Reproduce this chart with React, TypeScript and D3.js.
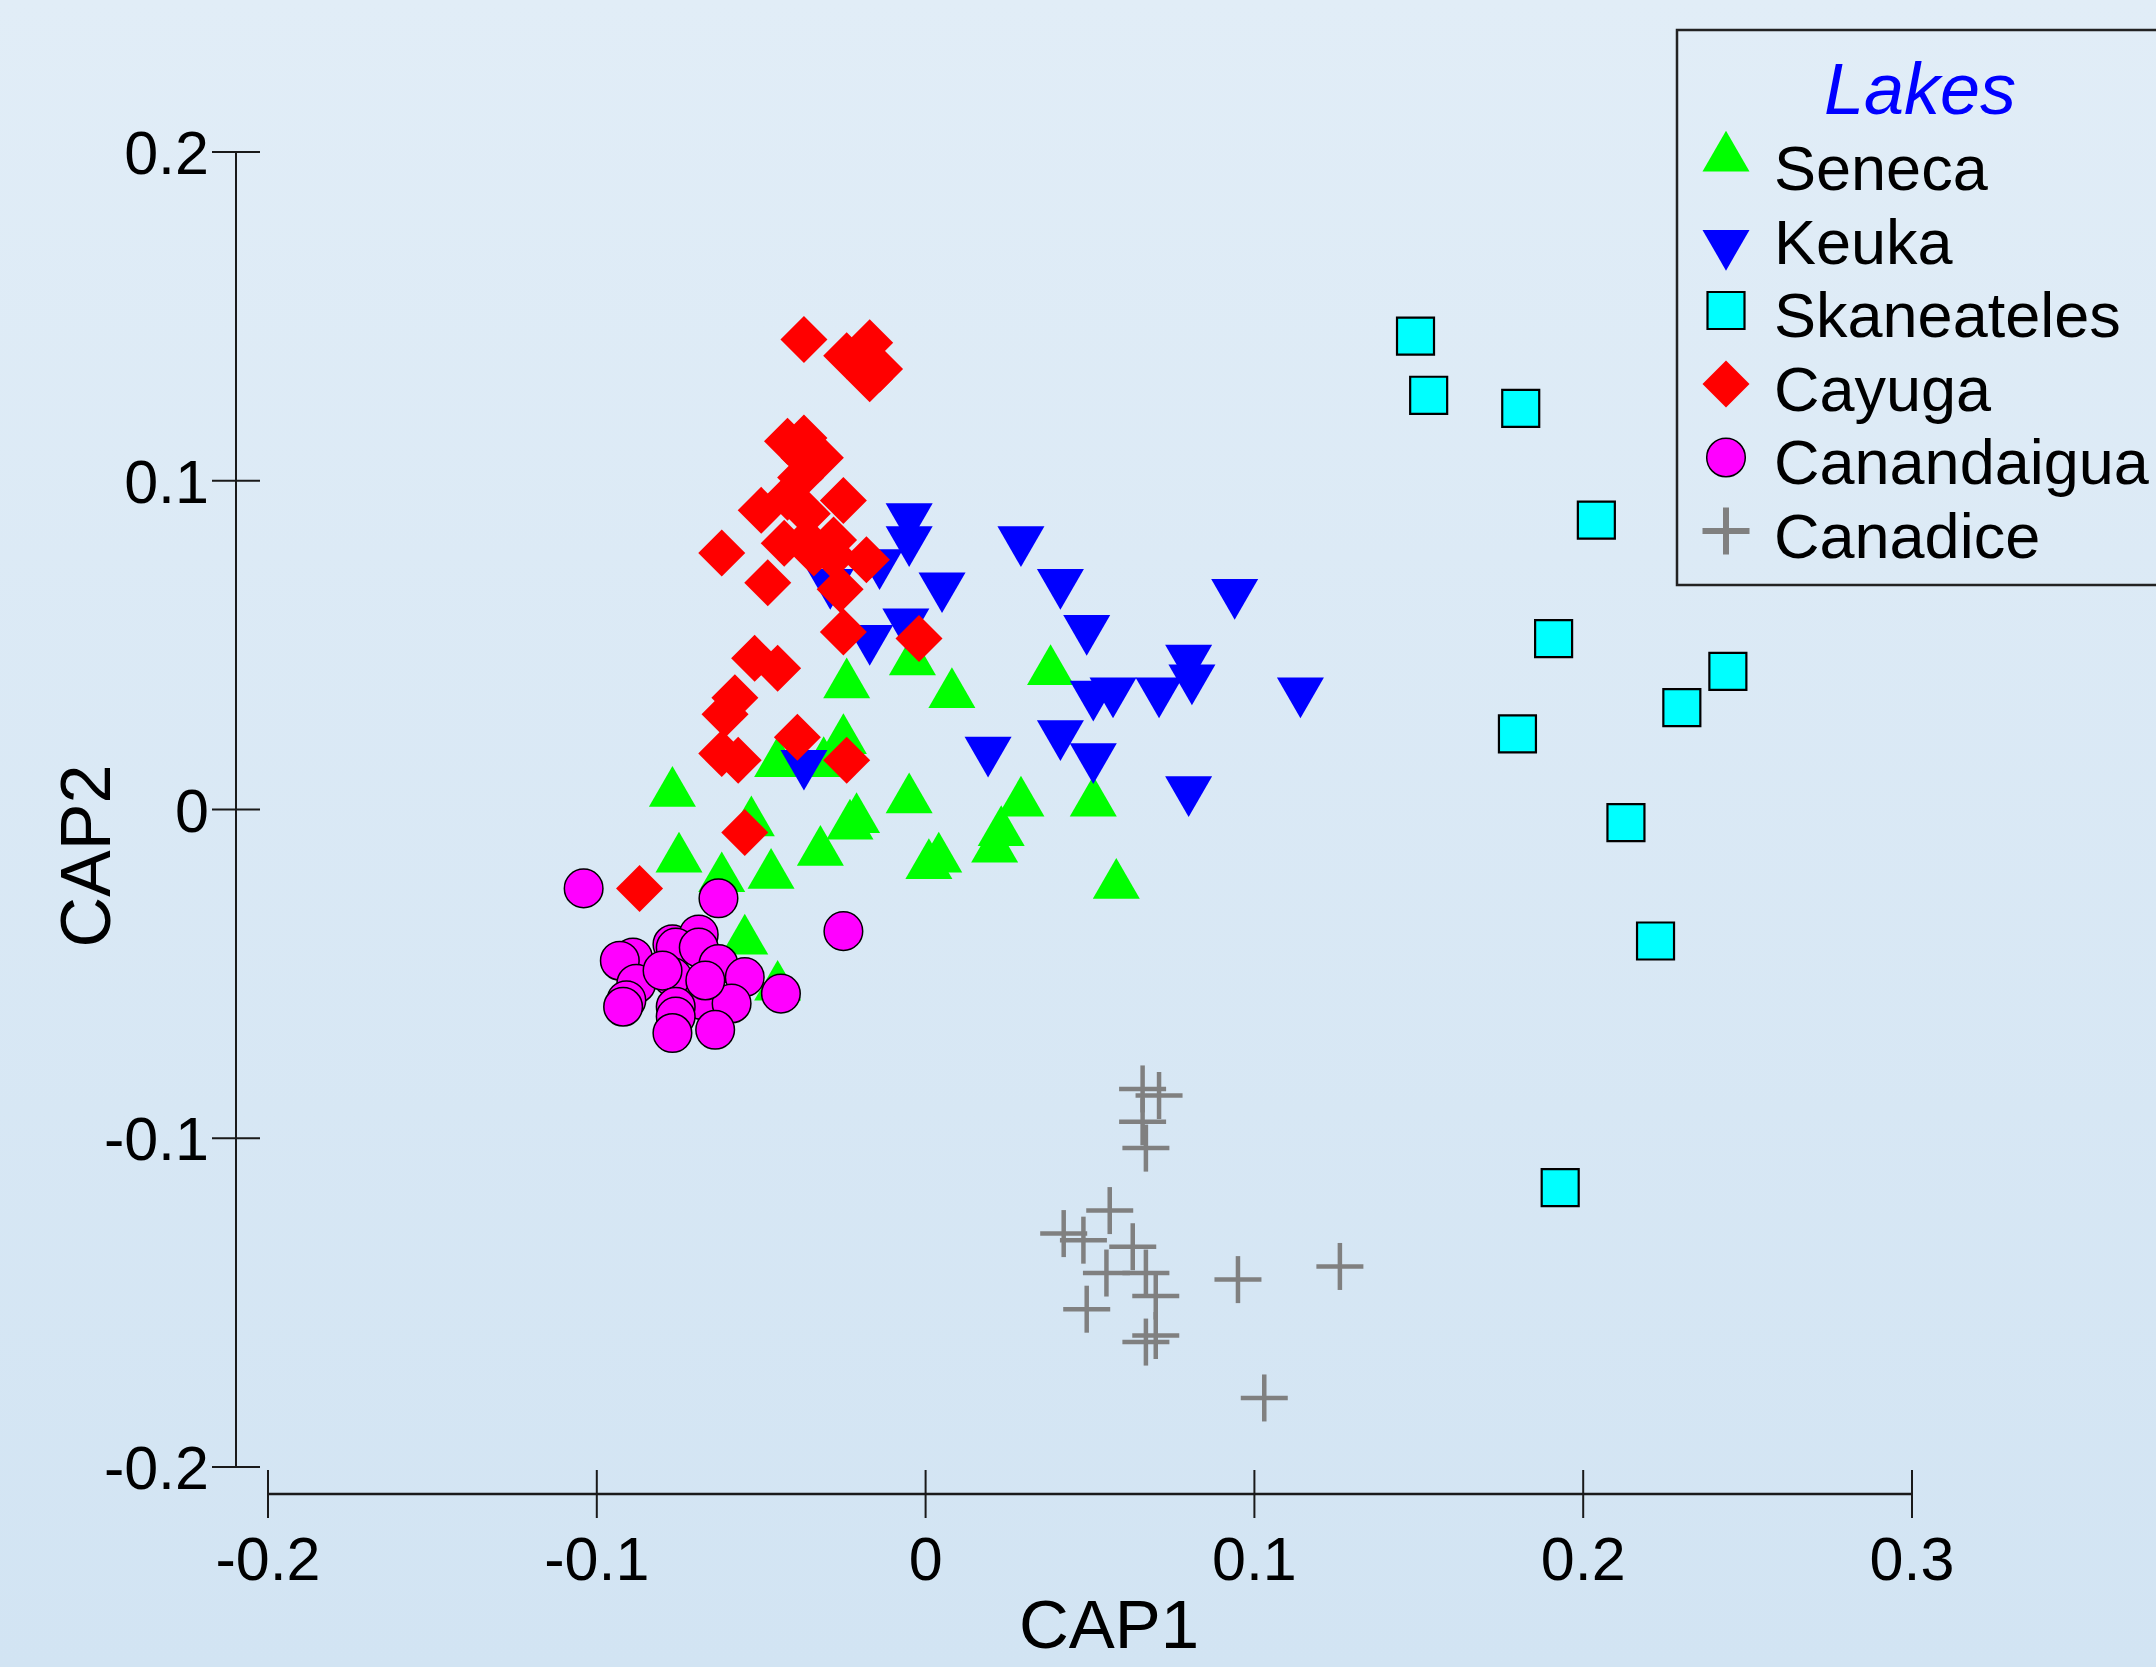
import React from 'react';
import * as d3 from 'd3';

type Pt = [number, number];

// CAP scores, [CAP1, CAP2]
const seneca: Pt[] = [
  [-0.024, 0.038], [-0.004, 0.045], [0.008, 0.035], [0.038, 0.042], [-0.025, 0.021],
  [-0.045, 0.014], [-0.031, 0.014], [-0.077, 0.005], [-0.053, -0.004], [-0.021, -0.003],
  [-0.023, -0.005], [-0.005, 0.003], [0.029, 0.002], [0.051, 0.002], [0.023, -0.007],
  [0.021, -0.012], [0.004, -0.015], [0.001, -0.017], [-0.032, -0.013], [-0.075, -0.015],
  [-0.047, -0.020], [-0.062, -0.021], [0.058, -0.023], [-0.055, -0.040], [-0.045, -0.054],
];

const keuka: Pt[] = [
  [-0.005, 0.089], [-0.005, 0.082], [-0.014, 0.075], [-0.029, 0.069], [0.005, 0.068],
  [0.029, 0.082], [0.041, 0.069], [0.094, 0.066], [0.049, 0.055], [-0.006, 0.057],
  [-0.017, 0.052], [0.080, 0.046], [0.081, 0.040], [0.051, 0.035], [0.057, 0.036],
  [0.071, 0.036], [0.114, 0.036], [0.019, 0.018], [0.041, 0.023], [0.051, 0.016],
  [0.080, 0.006], [-0.037, 0.014],
];

const skaneateles: Pt[] = [
  [0.149, 0.144], [0.153, 0.126], [0.181, 0.122], [0.204, 0.088], [0.191, 0.052],
  [0.244, 0.042], [0.230, 0.031], [0.180, 0.023], [0.213, -0.004], [0.222, -0.040],
  [0.193, -0.115],
];

const cayuga: Pt[] = [
  [-0.037, 0.143], [-0.017, 0.142], [-0.024, 0.138], [-0.014, 0.134], [-0.017, 0.131],
  [-0.042, 0.112], [-0.037, 0.113], [-0.032, 0.107], [-0.037, 0.107], [-0.038, 0.101],
  [-0.042, 0.095], [-0.025, 0.094], [-0.050, 0.091], [-0.036, 0.090], [-0.043, 0.081],
  [-0.036, 0.082], [-0.028, 0.082], [-0.034, 0.078], [-0.018, 0.076], [-0.028, 0.077],
  [-0.062, 0.078], [-0.048, 0.069], [-0.026, 0.067], [-0.025, 0.054], [-0.002, 0.052],
  [-0.052, 0.046], [-0.045, 0.043], [-0.058, 0.034], [-0.061, 0.029], [-0.039, 0.022],
  [-0.062, 0.017], [-0.057, 0.015], [-0.024, 0.015], [-0.055, -0.007], [-0.087, -0.024],
];

const canandaigua: Pt[] = [
  [-0.104, -0.024], [-0.063, -0.027], [-0.025, -0.037], [-0.089, -0.045], [-0.093, -0.046],
  [-0.077, -0.041], [-0.069, -0.038], [-0.076, -0.042], [-0.069, -0.042], [-0.063, -0.047],
  [-0.055, -0.051], [-0.088, -0.053], [-0.077, -0.051], [-0.080, -0.049], [-0.091, -0.058],
  [-0.092, -0.060], [-0.068, -0.058], [-0.059, -0.059], [-0.044, -0.056], [-0.076, -0.060],
  [-0.076, -0.063], [-0.077, -0.068], [-0.064, -0.067], [-0.067, -0.052],
];

const canadice: Pt[] = [
  [0.066, -0.085], [0.071, -0.087], [0.066, -0.095], [0.067, -0.103], [0.056, -0.122],
  [0.042, -0.129], [0.048, -0.131], [0.063, -0.133], [0.055, -0.141], [0.067, -0.141],
  [0.070, -0.148], [0.049, -0.152], [0.070, -0.160], [0.067, -0.162], [0.095, -0.143],
  [0.126, -0.139], [0.103, -0.179],
];

const xTicks = [-0.2, -0.1, 0, 0.1, 0.2, 0.3];
const yTicks = [-0.2, -0.1, 0, 0.1, 0.2];
const lakeNames = ['Seneca', 'Keuka', 'Skaneateles', 'Cayuga', 'Canandaigua', 'Canadice'];

const W = 2156;
const H = 1667;
const FONT = '"Liberation Sans", Arial, Helvetica, sans-serif';

const x = d3.scaleLinear().domain([-0.2, 0.3]).range([268, 1912]);
const y = d3.scaleLinear().domain([-0.2, 0.2]).range([1467, 152]);

const tri = d3.symbol().type(d3.symbolTriangle).size(957)();
const square = d3.symbol().type(d3.symbolSquare).size(1369)();
const diamond = d3.symbol().type(d3.symbolSquare).size(1105)();
const circle = d3.symbol().type(d3.symbolCircle).size(1170)();

const Marker = ({ kind, cx, cy, legend = false }) => {
  const t = `translate(${cx},${cy})`;
  switch (kind) {
    case 0:
      return <path d={tri} transform={t} fill="#00ff00" />;
    case 1:
      return <path d={tri} transform={`${t} rotate(180)`} fill="#0000ff" />;
    case 2:
      return <path d={square} transform={t} fill="#00ffff" stroke="#000" strokeWidth={2.2} />;
    case 3:
      return <path d={diamond} transform={`${t} rotate(45)`} fill="#ff0000" />;
    case 4:
      return <path d={circle} transform={t} fill="#ff00ff" stroke="#000" strokeWidth={1.5} />;
    default:
      return (
        <g transform={t} stroke="#808080" strokeWidth={legend ? 6 : 4.5}>
          <line x1={-23.5} x2={23.5} y1={0} y2={0} />
          <line x1={0} x2={0} y1={-23.5} y2={23.5} />
        </g>
      );
  }
};

// plain hyphen for negatives, like the original
const fmt = (v: number) => (Math.abs(v) < 1e-9 ? '0' : v.toFixed(1));

export default function App() {
  const groups = [seneca, keuka, skaneateles, cayuga, canandaigua, canadice];
  const legendRowY = (i: number) => 190 + i * 73.5;
  // triangles sit on their centroid, so nudge them to look level in the legend
  const legendOffset = [-5.5, 6.5, 0, 0, 0, 0];

  return (
    <div style={{ position: 'absolute', left: 0, top: 0 }}>
      <svg width={W} height={H} style={{ display: 'block' }} fontFamily={FONT}>
        <defs>
          <linearGradient id="bg" x1="0" y1="0" x2="0" y2="1">
            <stop offset="0" stopColor="#e1edf7" />
            <stop offset="1" stopColor="#d2e4f3" />
          </linearGradient>
        </defs>
        <rect x={0} y={0} width={W} height={H} fill="url(#bg)" />

        {/* y axis */}
        <line x1={236} x2={236} y1={y(0.2)} y2={y(-0.2)} stroke="#1a1a1a" strokeWidth={2} />
        {yTicks.map((t) => (
          <g key={t}>
            <line x1={212} x2={260} y1={y(t)} y2={y(t)} stroke="#1a1a1a" strokeWidth={2} />
            <text x={209} y={y(t) + 22} textAnchor="end" fontSize={61} fill="#000">
              {fmt(t)}
            </text>
          </g>
        ))}

        {/* x axis */}
        <line x1={x(-0.2)} x2={x(0.3)} y1={1494} y2={1494} stroke="#1a1a1a" strokeWidth={2.5} />
        {xTicks.map((t) => (
          <g key={t}>
            <line x1={x(t)} x2={x(t)} y1={1470} y2={1518} stroke="#1a1a1a" strokeWidth={2} />
            <text x={x(t)} y={1580} textAnchor="middle" fontSize={61} fill="#000">
              {fmt(t)}
            </text>
          </g>
        ))}

        <text x={1109} y={1648} textAnchor="middle" fontSize={69} fill="#000">CAP1</text>
        <text
          x={110}
          y={856}
          textAnchor="middle"
          fontSize={70}
          fill="#000"
          transform="rotate(-90,110,856)"
        >
          CAP2
        </text>

        {/* points */}
        {groups.map((pts, k) => (
          <g key={k}>
            {pts.map((p, i) => (
              <Marker key={i} kind={k} cx={x(p[0])} cy={y(p[1])} />
            ))}
          </g>
        ))}

        {/* legend */}
        <rect x={1677} y={30} width={520} height={555} fill="none" stroke="#222" strokeWidth={2.5} />
        <text x={1920} y={114} textAnchor="middle" fontSize={72} fontStyle="italic" fill="#0000ff">
          Lakes
        </text>
        {lakeNames.map((name, i) => (
          <g key={name}>
            <Marker kind={i} cx={1726} cy={legendRowY(i) - 26.5 + legendOffset[i]} legend />
            <text x={1774} y={legendRowY(i)} fontSize={63} fill="#000">
              {name}
            </text>
          </g>
        ))}
      </svg>
    </div>
  );
}
